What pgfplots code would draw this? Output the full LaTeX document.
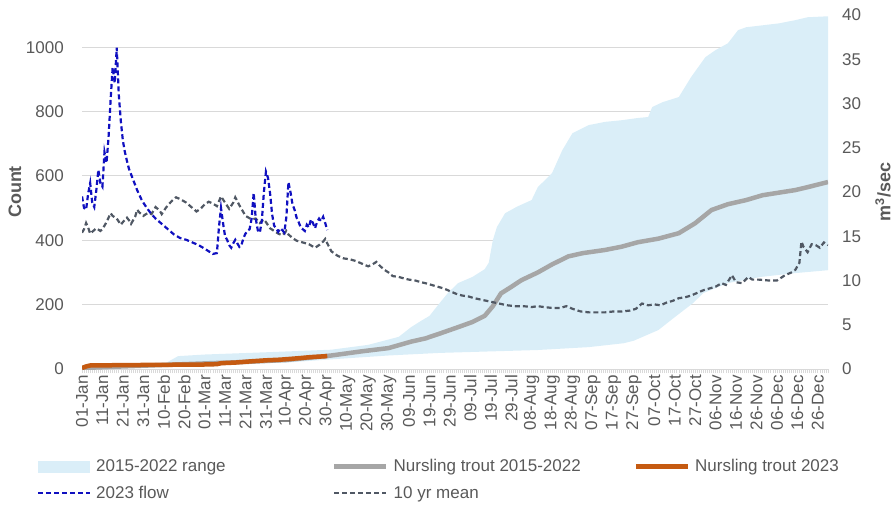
\documentclass[border=0pt]{standalone}
\usepackage{pgfplots}
\pgfplotsset{compat=1.18}
\usepackage{fontspec}
\setmainfont{Liberation Sans}

\definecolor{txt}{RGB}{89,89,89}
\definecolor{gridc}{RGB}{217,217,217}
\definecolor{band}{RGB}{218,238,248}
\definecolor{troutavg}{RGB}{166,166,166}
\definecolor{trout23}{RGB}{197,90,17}
\definecolor{flow}{RGB}{16,16,192}
\definecolor{tenyr}{RGB}{80,88,100}

\newcommand{\fs}{\fontsize{17}{20}\selectfont}

\begin{document}
\begin{tikzpicture}
\path[use as bounding box] (0pt,0pt) rectangle (894pt,512pt);

% left axis: counts
\begin{axis}[
  at={(82pt,143pt)}, anchor=south west,
  scale only axis, width=746pt, height=354pt,
  xmin=0, xmax=365, ymin=0, ymax=1100,
  axis lines*=left,
  y axis line style={draw=none},
  x axis line style={draw=gridc, line width=1pt},
  ytick={0,200,...,1000},
  ymajorgrids, grid style={draw=gridc, line width=1pt},
  ytick style={draw=none},
  xtick={0,10,...,360},
  minor xtick={0,1,...,365},
  xtick style={draw=gridc, line width=0.6pt},
  tick align=outside,
  major tick length=4pt, minor tick length=4pt,
  xticklabels={01-Jan,11-Jan,21-Jan,31-Jan,10-Feb,20-Feb,01-Mar,11-Mar,21-Mar,31-Mar,10-Apr,20-Apr,30-Apr,10-May,20-May,30-May,09-Jun,19-Jun,29-Jun,09-Jul,19-Jul,29-Jul,08-Aug,18-Aug,28-Aug,07-Sep,17-Sep,27-Sep,07-Oct,17-Oct,27-Oct,06-Nov,16-Nov,26-Nov,06-Dec,16-Dec,26-Dec},
  xticklabel style={rotate=90, anchor=east, inner sep=0pt, xshift=-2pt, font=\fs, text=txt},
  yticklabel style={anchor=east, inner sep=0pt, xshift=-14pt, font=\fs, text=txt,
    /pgf/number format/assume math mode=true, /pgf/number format/1000 sep={}},
  ylabel={\bfseries Count},
  every axis y label/.style={at={(axis description cs:-0.0898,0.5)}, rotate=90, anchor=center,
    font=\fontsize{18}{20}\selectfont, text=txt},
  legend columns=3,
  legend image code/.code={\draw[#1, line cap=butt] (0pt,0pt) -- (52pt,0pt);},
  legend style={at={(-0.0603,-0.256)}, anchor=north west, draw=none, fill=none,
    inner sep=0pt, outer sep=0pt, font=\fs, text=txt,
    nodes={inner sep=0pt}, column sep=0pt, row sep=13pt},
  legend cell align=left,
]
\addplot[fill=band, draw=none,
  legend image code/.code={\path[fill=band] (0pt,-6pt) rectangle (52pt,6pt);}]
coordinates {
(0,2) (20,5) (40,15) (47,40) (60,45) (90,52) (122,60) (140,75) (155,100)
(161,130) (166,150) (170,165) (175,205) (179,236) (184,267) (191,286)
(197,310) (199,330) (201,400) (203,441) (207,484) (213,505) (220,525)
(223,565) (230,609) (235,680) (240,733) (248,758) (256,768) (264,773)
(272,780) (277,783) (279,814) (284,829) (292,845) (298,907) (305,969)
(310,991) (316,1012) (321,1053) (325,1062) (333,1068) (341,1074)
(349,1084) (355,1093) (365,1096)
(365,307) (349,298) (332,286) (316,267) (304,236) (299,205) (290,161)
(282,121) (270,88) (265,80) (248,68) (223,59) (175,50) (150,42)
(122,30) (100,20) (47,12) (0,0)
} -- cycle;
\addlegendentry{\hspace*{5pt}\makebox[236pt][l]{2015-2022 range}}

\addplot[troutavg, line width=4.5pt] coordinates {
(0,3) (20,8) (50,15) (80,22) (100,28) (122,42) (137,55) (150,65) (161,85)
(168,95) (175,110) (184,130) (191,146) (197,165) (201,195) (205,235)
(210,255) (215,276) (223,300) (230,325) (238,350) (245,360) (256,370)
(264,380) (272,394) (282,405) (292,422) (300,453) (308,494) (316,512)
(325,525) (333,540) (341,548) (349,556) (355,565) (365,581)
};
\addlegendentry{\hspace*{5pt}\makebox[240pt][l]{Nursling trout 2015-2022}}

\addplot[trout23, line width=4.5pt] coordinates {
(0,3) (2,8) (4,11) (20,12) (40,13) (60,14) (66,15) (68,18) (75,20)
(83,24) (90,27) (97,29) (105,33) (112,37) (120,40)
};
\addlegendentry{\hspace*{5pt}Nursling trout 2023}

\addlegendimage{flow, line width=2.2pt, dash pattern=on 5pt off 3pt}
\addlegendentry{\hspace*{5pt}2023 flow}
\addlegendimage{tenyr, line width=2.2pt, dash pattern=on 5pt off 3pt}
\addlegendentry{\hspace*{5pt}10 yr mean}
\end{axis}

% right axis: flow
\begin{axis}[
  at={(82pt,143pt)}, anchor=south west,
  scale only axis, width=746pt, height=354pt,
  xmin=0, xmax=365, ymin=0, ymax=40,
  axis x line=none,
  axis y line*=right,
  y axis line style={draw=none},
  ytick={0,5,...,40},
  ytick style={draw=none},
  yticklabel style={anchor=west, inner sep=0pt, xshift=14pt, font=\fs, text=txt,
    /pgf/number format/assume math mode=true},
  ylabel={\bfseries m\textsuperscript{3}/sec},
  every axis y label/.style={at={(axis description cs:1.0737,0.5)}, rotate=90, anchor=center,
    font=\fontsize{18}{20}\selectfont, text=txt},
]
\addplot[tenyr, line width=2.2pt, dash pattern=on 5pt off 3pt] coordinates {
(0,15.4) (1,15.8) (2,16.5) (3,16.0) (4,15.3) (5,15.5) (7,15.9) (9,15.6)
(10,15.8) (12,16.6) (14,17.6) (15,17.3) (17,17.0) (19,16.3) (20,16.6)
(22,17.1) (23,16.8) (24,16.4) (26,17.2) (27,18.0) (28,17.7) (30,17.3)
(32,17.6) (34,17.5) (36,18.3) (38,17.9) (39,17.5) (41,18.2) (42,18.5)
(44,19.0) (46,19.4) (48,19.2) (51,18.8) (54,18.2) (56,17.8) (58,18.1)
(60,18.6) (62,18.9) (64,18.7) (66,18.4) (68,19.5) (70,18.8) (72,18.1)
(74,18.8) (75,19.4) (77,18.5) (80,17.3) (83,16.9) (85,17.0) (87,16.5)
(89,16.9) (90,16.6) (92,15.9) (94,15.6) (96,15.3) (98,15.1) (100,15.6)
(101,15.2) (103,14.8) (105,14.5) (108,14.3) (111,14.1) (114,13.7)
(116,14.0) (118,14.4) (119,14.7) (120,14.2) (122,13.3) (125,12.8)
(128,12.5) (131,12.4) (134,12.2) (137,11.9) (140,11.6) (142,11.8)
(144,12.1) (146,11.6) (148,11.2) (150,10.9) (152,10.5) (155,10.4)
(158,10.2) (160,10.1) (163,10.0) (166,9.8) (168,9.7) (171,9.5) (174,9.3)
(177,9.1) (180,8.8) (183,8.5) (186,8.3) (189,8.2) (192,8.0) (196,7.8)
(200,7.6) (204,7.4) (208,7.2) (212,7.1) (216,7.1) (220,7.0) (223,7.1)
(226,7.0) (230,6.9) (234,6.9) (237,7.1) (240,6.8) (244,6.5) (248,6.4)
(252,6.4) (256,6.4) (260,6.5) (264,6.5) (268,6.6) (271,6.8) (274,7.4)
(277,7.2) (280,7.3) (283,7.2) (286,7.5) (289,7.7) (292,8.0) (295,8.1)
(298,8.3) (301,8.6) (304,8.9) (307,9.1) (310,9.3) (313,9.7) (315,9.5)
(318,10.6) (320,9.8) (323,9.7) (326,10.4) (328,10.1) (331,10.1)
(336,10.0) (340,10.0) (344,10.6) (347,10.9) (349,11.2) (351,12.0)
(352,14.4) (353,13.8) (355,13.2) (357,14.1) (359,14.0) (361,13.7)
(363,14.3) (365,14.0)
};
\addplot[flow, line width=2.2pt, dash pattern=on 5pt off 3pt] coordinates {
(0,19.5) (1,18.2) (2,18.0) (3,19.8) (4,21.0) (5,18.8) (6,18.3) (7,20.2)
(8,22.5) (9,21.0) (10,20.6) (11,24.5) (12,23.3) (13,26.2) (14,30.4)
(15,34.1) (16,32.3) (17,36.3) (18,31.0) (19,28.0) (20,25.8) (21,24.5)
(22,23.5) (23,22.6) (24,22.0) (25,21.4) (26,20.8) (27,20.2) (28,19.7)
(29,19.2) (30,18.8) (32,18.1) (34,17.5) (36,17.0) (39,16.4) (42,15.8)
(45,15.2) (48,14.8) (51,14.6) (54,14.3) (57,14.0) (60,13.6) (62,13.3)
(64,13.0) (66,13.1) (67,16.0) (68,18.2) (69,16.5) (70,15.0) (71,14.6)
(72,14.0) (73,13.7) (74,14.2) (75,14.6) (76,14.2) (77,13.8) (78,14.0)
(79,14.8) (80,15.3) (81,15.6) (82,15.8) (83,17.0) (84,19.9) (85,17.0)
(86,15.7) (87,15.4) (88,16.8) (89,20.0) (90,22.3) (91,21.6) (92,19.9)
(93,17.5) (94,16.2) (95,15.9) (96,15.5) (97,15.9) (98,15.7) (99,15.4)
(100,17.2) (101,21.1) (102,20.0) (103,18.6) (104,18.0) (105,17.1)
(106,16.6) (107,16.0) (108,15.8) (109,15.6) (110,16.3) (111,16.0)
(112,16.9) (113,16.5) (114,15.9) (115,16.6) (116,17.0) (117,16.7)
(118,17.2) (119,16.5) (120,15.7)
};
\end{axis}
\end{tikzpicture}
\end{document}
